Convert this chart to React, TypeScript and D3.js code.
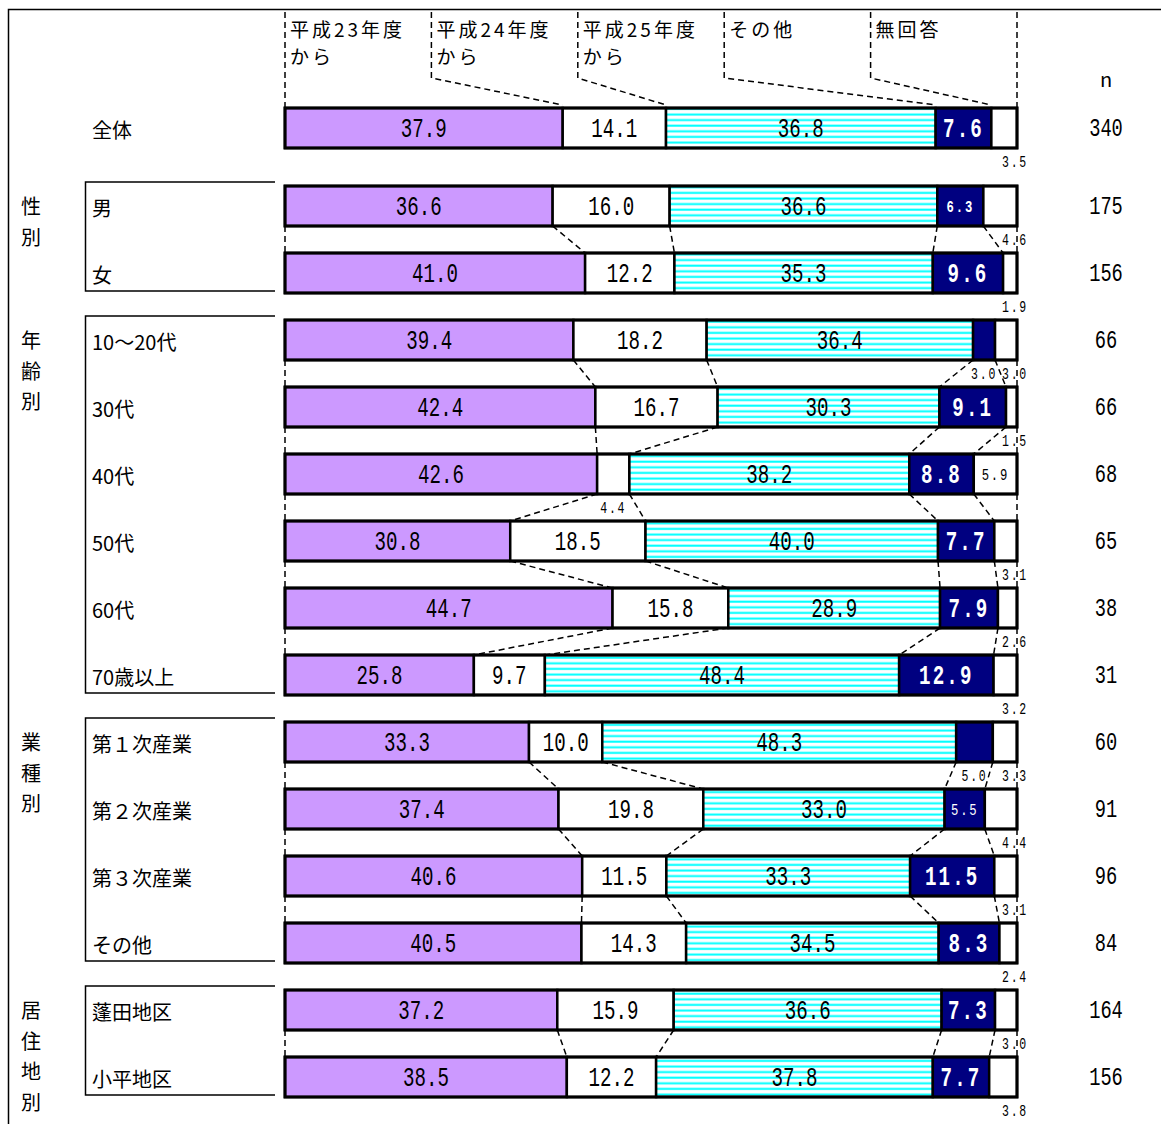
import React from 'react';
import * as d3 from 'd3';

const categories = ['全体', '男', '女', '10〜20代', '30代', '40代', '50代', '60代', '70歳以上', '第１次産業', '第２次産業', '第３次産業', 'その他', '蓬田地区', '小平地区'];
const seriesKeys = ['h23', 'h24', 'h25', 'other', 'noAns'];
const seriesLines = [['平成23年度', 'から'], ['平成24年度', 'から'], ['平成25年度', 'から'], ['その他'], ['無回答']];
const h23 = [37.9, 36.6, 41.0, 39.4, 42.4, 42.6, 30.8, 44.7, 25.8, 33.3, 37.4, 40.6, 40.5, 37.2, 38.5];
const h24 = [14.1, 16.0, 12.2, 18.2, 16.7, 4.4, 18.5, 15.8, 9.7, 10.0, 19.8, 11.5, 14.3, 15.9, 12.2];
const h25 = [36.8, 36.6, 35.3, 36.4, 30.3, 38.2, 40.0, 28.9, 48.4, 48.3, 33.0, 33.3, 34.5, 36.6, 37.8];
const other = [7.6, 6.3, 9.6, 3.0, 9.1, 8.8, 7.7, 7.9, 12.9, 5.0, 5.5, 11.5, 8.3, 7.3, 7.7];
const noAns = [3.5, 4.6, 1.9, 3.0, 1.5, 5.9, 3.1, 2.6, 3.2, 3.3, 4.4, 3.1, 2.4, 3.0, 3.8];
const nCounts = [340, 175, 156, 66, 66, 68, 65, 38, 31, 60, 91, 96, 84, 164, 156];
const groupNames = ['性別', '年齢別', '業種別', '居住地別'];
const groupRanges = [[1, 2], [3, 8], [9, 12], [13, 14]];

const fills = ['#CC99FF', '#FFFFFF', 'url(#stripes)', '#000080', '#FFFFFF'];
const JP = '"Noto Sans CJK JP", sans-serif';
const MONO = '"Liberation Mono", "DejaVu Sans Mono", monospace';

const W = 1161;
const H = 1124;
const barH = 40;

// narrow, tall digits like the gothic font of the original
function Num({ x, y, size, sx = 0.71, children, fill = '#000', weight = 'normal', spacing = 0 }: any) {
  return (
    <text transform={`translate(${x},${y}) scale(${sx},1)`} textAnchor="middle" fontFamily={MONO} fontSize={size}
      fill={fill} fontWeight={weight} letterSpacing={spacing}>{children}</text>
  );
}

export default function App() {
  const x = d3.scaleLinear().domain([0, 1]).range([285, 1017]);
  const yRow = d3.scaleLinear().domain([1, 14]).range([206, 1077]);
  const cy = (i: number) => (i === 0 ? yRow(1) - 78 : yRow(i));

  const table = categories.map((c, i) => ({ h23: h23[i], h24: h24[i], h25: h25[i], other: other[i], noAns: noAns[i] }));
  const stacked = d3.stack<any>().keys(seriesKeys).offset(d3.stackOffsetExpand)(table);
  const raw = [h23, h24, h25, other, noAns];

  const bounds = categories.map((_, i) => [0, ...stacked.map(s => s[i][1])]);

  const connectors: any[] = [];
  groupRanges.forEach(([a, b]) => {
    for (let i = a; i < b; i++) {
      bounds[i].forEach((v, k) => {
        connectors.push(
          <line key={`c${i}-${k}`} x1={x(v)} y1={cy(i) + barH / 2} x2={x(bounds[i + 1][k])} y2={cy(i + 1) - barH / 2}
            stroke="#000" strokeWidth={1.5} strokeDasharray="6,4" />
        );
      });
    }
  });

  const legendTop = 12;
  const legendBottom = 78;
  const legendLines = [0, 1, 2, 3, 4, 5].map(k => {
    const lx = x(k / 5);
    const tx = x(bounds[0][k]);
    const by = cy(0) - barH / 2;
    if (k === 0 || k === 5) {
      return <line key={`l${k}`} x1={lx} y1={legendTop} x2={lx} y2={by} stroke="#000" strokeWidth={1.5} strokeDasharray="6,4" />;
    }
    return (
      <path key={`l${k}`} d={`M${lx},${legendTop}V${legendBottom}L${tx},${by - 3}`} fill="none" stroke="#000" strokeWidth={1.5} strokeDasharray="6,4" />
    );
  });

  return (
    <svg width={W} height={H} style={{ position: 'absolute', left: 0, top: 0, display: 'block', background: '#fff' }}>
      <defs>
        <pattern id="stripes" width={8} height={5.6} patternUnits="userSpaceOnUse">
          <rect width={8} height={5.6} fill="#fff" />
          <rect y={1.5} width={8} height={2} fill="#00FFFF" />
        </pattern>
      </defs>
      <rect x={8.5} y={9.5} width={1300} height={1300} fill="none" stroke="#000" strokeWidth={1.5} />

      {seriesLines.map((lines, k) => lines.map((t, j) => (
        <text key={`lg${k}-${j}`} x={x(k / 5) + 5} y={37 + j * 27} fontFamily={JP} fontSize={19} letterSpacing={3}>{t}</text>
      )))}
      {legendLines}
      <text x={1106} y={87} textAnchor="middle" fontFamily={JP} fontSize={20}>n</text>

      {groupRanges.map(([a, b], g) => {
        const top = cy(a) - barH / 2 - 4;
        const bot = cy(b) + barH / 2 - 2;
        return (
          <g key={`g${g}`}>
            <path d={`M275,${top}H85.5V${bot}H275`} fill="none" stroke="#000" strokeWidth={1.5} />
            {groupNames[g].split('').map((ch, j) => (
              <text key={j} x={31} y={cy(a) + 8 + j * 30.5} textAnchor="middle" fontFamily={JP} fontSize={20}>{ch}</text>
            ))}
          </g>
        );
      })}

      {categories.map((c, i) => (
        <text key={`cat${i}`} x={92} y={cy(i) + 10} fontFamily={JP} fontSize={20}>{c}</text>
      ))}

      {connectors}

      {categories.map((c, i) => (
        <g key={`bar${i}`}>
          {stacked.map((s, k) => (
            <rect key={k} x={x(s[i][0])} y={cy(i) - barH / 2} width={x(s[i][1]) - x(s[i][0])} height={barH}
              fill={fills[k]} stroke="#000" strokeWidth={2.5} />
          ))}
          <rect x={x(0)} y={cy(i) - barH / 2} width={x(1) - x(0)} height={barH} fill="none" stroke="#000" strokeWidth={3} />
          {stacked.map((s, k) => {
            const v = raw[k][i];
            const label = v.toFixed(1);
            const mid = (x(s[i][0]) + x(s[i][1])) / 2;
            const navy = k === 3;
            if (v < 5.2) {
              const lx = k === 4 ? x(1) - 2 : mid;
              return <Num key={`t${k}`} x={lx} y={cy(i) + barH / 2 + 19} size={16} sx={0.72} spacing={2.5}>{label}</Num>;
            }
            if (v < 7) {
              return (
                <Num key={`t${k}`} x={mid} y={cy(i) + 6} size={17} sx={0.72} weight={navy && v >= 6 ? 'bold' : 'normal'}
                  fill={navy ? '#fff' : '#000'} spacing={2.5}>{label}</Num>
              );
            }
            return (
              <Num key={`t${k}`} x={mid} y={cy(i) + 9} size={27} sx={0.71} weight={navy ? 'bold' : 'normal'}
                fill={navy ? '#fff' : '#000'} spacing={navy ? 3 : 0}>{label}</Num>
            );
          })}
          <Num x={1106} y={cy(i) + 8} size={26} sx={0.72}>{nCounts[i]}</Num>
        </g>
      ))}
    </svg>
  );
}
